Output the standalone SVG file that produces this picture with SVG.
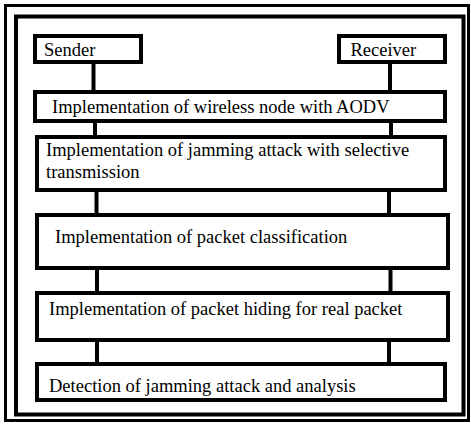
<svg xmlns="http://www.w3.org/2000/svg" width="471" height="425" viewBox="0 0 471 425">
<style>
.box{fill:#fff;stroke:#000;stroke-width:4}
.frame{fill:none;stroke:#000}
text{font-family:'Liberation Serif','DejaVu Serif',serif;font-size:18.5px;fill:#000}
.conn line{stroke:#000;stroke-width:4}
</style>
<rect width="471" height="425" fill="#fff"/>
<rect class="frame" x="5.5" y="5.5" width="463" height="415" stroke-width="3"/>
<rect class="frame" x="16" y="16.5" width="447.5" height="398" stroke-width="4"/>
<g id="connectors" class="conn">
<line x1="93.5" y1="62" x2="93.5" y2="92"/>
<line x1="390" y1="62" x2="390" y2="92"/>
<line x1="95" y1="121" x2="95" y2="137"/>
<line x1="391" y1="121" x2="391" y2="137"/>
<line x1="96.5" y1="190" x2="96.5" y2="215"/>
<line x1="389" y1="190" x2="389" y2="215"/>
<line x1="97" y1="268" x2="97" y2="293"/>
<line x1="390.5" y1="268" x2="390.5" y2="293"/>
<line x1="97" y1="340" x2="97" y2="364"/>
<line x1="389" y1="340" x2="389" y2="364"/>
</g>
<g id="sender">
<rect class="box" x="35" y="36" width="106" height="26"/>
<text x="44" y="56">Sender</text>
</g>
<g id="receiver">
<rect class="box" x="339" y="36" width="106" height="26"/>
<text x="350.5" y="56">Receiver</text>
</g>
<g id="step1">
<rect class="box" x="35" y="92" width="410" height="29"/>
<text x="52" y="113">Implementation of wireless node with AODV</text>
</g>
<g id="step2">
<rect class="box" x="37" y="137" width="408" height="53"/>
<text x="46" y="156">Implementation of jamming attack with selective</text>
<text x="46" y="178">transmission</text>
</g>
<g id="step3">
<rect class="box" x="37" y="215" width="411" height="53"/>
<text x="55" y="243">Implementation of packet classification</text>
</g>
<g id="step4">
<rect class="box" x="37" y="293" width="411" height="47"/>
<text x="49" y="315">Implementation of packet hiding for real packet</text>
</g>
<g id="step5">
<rect class="box" x="37" y="364" width="408" height="36"/>
<text x="49" y="392">Detection of jamming attack and analysis</text>
</g>
</svg>
